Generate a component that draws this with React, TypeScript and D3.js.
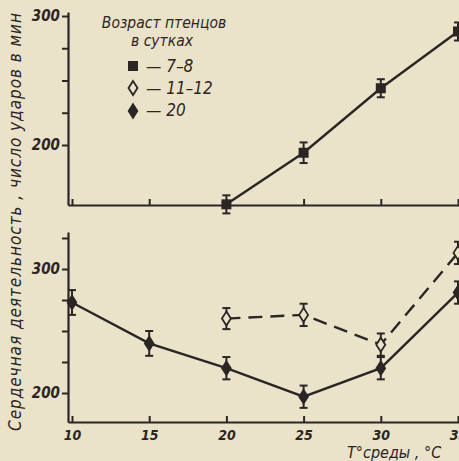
import React, { useRef, useEffect } from 'react';
import * as d3 from 'd3';

// temperature of environment, °C
const temps = [10, 15, 20, 25, 30, 35];

// 7–8 day old nestlings (top panel)
const age78Temps = [20, 25, 30, 35];
const age78Values = [154, 194, 244, 288];
const age78Err = [7, 8, 7, 7];

// 11–12 day old nestlings (bottom panel, dashed)
const age1112Temps = [20, 25, 30, 35];
const age1112Values = [260, 263, 239, 313];
const age1112Err = [8.5, 9, 9, 9];

// 20 day old nestlings (bottom panel, solid)
const age20Temps = [10, 15, 20, 25, 30, 35];
const age20Values = [273, 240, 220, 197, 220, 281];
const age20Err = [10, 10, 9, 9, 9, 9];

const yTicks = [200, 225, 250, 275, 300, 325];
const yTickLabels = [200, 300];

const legendTitle = ['Возраст птенцов', 'в сутках'];
const legendItems = ['— 7–8', '— 11–12', '— 20'];

const INK = '#2b2624';
const PAPER = '#ebe2ca';
const FONT = "'DejaVu Sans Condensed', 'DejaVu Sans', sans-serif";

const App = () => {
    const svgRef = useRef<SVGSVGElement>(null);

    useEffect(() => {
        const svg = d3.select(svgRef.current);
        svg.selectAll('*').remove();

        svg.append('rect').attr('width', 459).attr('height', 461).attr('fill', PAPER);

        const x = d3.scaleLinear().domain([10, 35]).range([72, 458]);
        const xLeft = x.invert(68);

        // top panel scale: 200 -> 145, 300 -> 16
        const yTop = d3.scaleLinear().domain([200, 300]).range([145, 16]);
        // bottom panel scale: 200 -> 393, 300 -> 269
        const yBot = d3.scaleLinear().domain([200, 300]).range([393, 269]);

        const fmt = (d: d3.NumberValue) => (yTickLabels.includes(+d) ? String(d) : '');

        const drawPanel = (y: d3.ScaleLinear<number, number>, yMin: number, yMax: number, xLabels: boolean) => {
            const g = svg.append('g');
            // y axis
            const ya = g.append('g')
                .attr('transform', `translate(68,0)`)
                .call(d3.axisLeft(y.copy().domain([yMin, yMax]).range([y(yMin), y(yMax)]))
                    .tickValues(yTicks.filter(t => t >= yMin && t <= yMax))
                    .tickFormat(fmt)
                    .tickSize(6)
                    .tickSizeOuter(0)
                    .tickPadding(2));
            ya.select('.domain').attr('stroke', INK).attr('stroke-width', 2.2);
            ya.selectAll('line').attr('stroke', INK).attr('stroke-width', 2);
            ya.selectAll('text')
                .attr('fill', INK)
                .style('font-family', FONT)
                .style('font-style', 'italic')
                .style('font-weight', 'bold')
                .style('font-size', '15px');

            // x axis
            const xa = g.append('g')
                .attr('transform', `translate(0,${y(yMin)})`)
                .call(d3.axisBottom(x.copy().domain([xLeft, 36]).range([68, x(36)]))
                    .tickValues(temps)
                    .tickFormat(d => (xLabels ? String(d) : ''))
                    .tickSize(-6)
                    .tickSizeOuter(0)
                    .tickPadding(8));
            xa.select('.domain').attr('stroke', INK).attr('stroke-width', 2.2);
            xa.selectAll('line').attr('stroke', INK).attr('stroke-width', 2);
            xa.selectAll('text')
                .attr('fill', INK)
                .style('font-family', FONT)
                .style('font-style', 'italic')
                .style('font-weight', 'bold')
                .style('font-size', '14px');
        };

        drawPanel(yTop, yTop.invert(205), yTop.invert(12), false);
        drawPanel(yBot, yBot.invert(422), yBot.invert(232), true);

        const errorBars = (g: d3.Selection<SVGGElement, unknown, null, undefined>, xs: number[], vs: number[], es: number[], y: d3.ScaleLinear<number, number>) => {
            xs.forEach((t, i) => {
                const cx = x(t);
                const y1 = y(vs[i] - es[i]);
                const y2 = y(vs[i] + es[i]);
                g.append('line').attr('x1', cx).attr('x2', cx).attr('y1', y1).attr('y2', y2)
                    .attr('stroke', INK).attr('stroke-width', 2);
                [y1, y2].forEach(yy => g.append('line')
                    .attr('x1', cx - 4).attr('x2', cx + 4).attr('y1', yy).attr('y2', yy)
                    .attr('stroke', INK).attr('stroke-width', 2));
            });
        };

        const diamond = (cx: number, cy: number) =>
            `M${cx},${cy - 7}L${cx + 4.5},${cy}L${cx},${cy + 7}L${cx - 4.5},${cy}Z`;

        // top panel: 7–8 days
        const top = svg.append('g');
        const lineTop = d3.line<number>().x((d, i) => x(age78Temps[i])).y(d => yTop(d));
        top.append('path').datum(age78Values).attr('d', lineTop)
            .attr('fill', 'none').attr('stroke', INK).attr('stroke-width', 2.4);
        errorBars(top, age78Temps, age78Values, age78Err, yTop);
        top.selectAll('rect.m').data(age78Values).join('rect')
            .attr('x', (d, i) => x(age78Temps[i]) - 5).attr('y', d => yTop(d) - 5)
            .attr('width', 10).attr('height', 10).attr('fill', INK);

        // bottom panel
        const bot = svg.append('g');
        const line1112 = d3.line<number>().x((d, i) => x(age1112Temps[i])).y(d => yBot(d));
        bot.append('path').datum(age1112Values).attr('d', line1112)
            .attr('fill', 'none').attr('stroke', INK).attr('stroke-width', 2.4)
            .attr('stroke-dasharray', '14 8');
        const line20 = d3.line<number>().x((d, i) => x(age20Temps[i])).y(d => yBot(d));
        bot.append('path').datum(age20Values).attr('d', line20)
            .attr('fill', 'none').attr('stroke', INK).attr('stroke-width', 2.4);

        errorBars(bot, age1112Temps, age1112Values, age1112Err, yBot);
        errorBars(bot, age20Temps, age20Values, age20Err, yBot);

        age1112Values.forEach((v, i) => {
            bot.append('path').attr('d', diamond(x(age1112Temps[i]), yBot(v)))
                .attr('fill', PAPER).attr('stroke', INK).attr('stroke-width', 1.8);
        });
        age20Values.forEach((v, i) => {
            bot.append('path').attr('d', diamond(x(age20Temps[i]), yBot(v)))
                .attr('fill', INK).attr('stroke', INK).attr('stroke-width', 1.5);
        });

        // x label
        svg.append('text')
            .attr('x', 347).attr('y', 458)
            .attr('fill', INK)
            .style('font-family', FONT)
            .style('font-style', 'italic')
            .style('font-size', '16px')
            .text('T°среды , °C');

        // y label
        svg.append('text')
            .attr('transform', 'translate(21,222) rotate(-90)')
            .attr('text-anchor', 'middle')
            .attr('fill', INK)
            .attr('textLength', 418)
            .style('font-family', FONT)
            .style('font-style', 'italic')
            .style('font-size', '17px')
            .text('Сердечная деятельность , число ударов в мин');

        // legend
        const lg = svg.append('g').style('font-family', FONT).style('font-style', 'italic').attr('fill', INK);
        lg.append('text').attr('x', 164).attr('y', 28).attr('text-anchor', 'middle')
            .style('font-size', '15.5px').text(legendTitle[0]);
        lg.append('text').attr('x', 162).attr('y', 46).attr('text-anchor', 'middle')
            .style('font-size', '15.5px').text(legendTitle[1]);
        lg.append('rect').attr('x', 128).attr('y', 61).attr('width', 10).attr('height', 10).attr('fill', INK);
        lg.append('path').attr('d', diamond(133, 88)).attr('fill', PAPER).attr('stroke', INK).attr('stroke-width', 1.8);
        lg.append('path').attr('d', diamond(133, 111)).attr('fill', INK).attr('stroke', INK).attr('stroke-width', 1.5);
        legendItems.forEach((t, i) => {
            lg.append('text').attr('x', 146).attr('y', 72 + i * 22)
                .style('font-size', '17px').text(t);
        });
    }, []);

    return (
        <svg ref={svgRef} width="459" height="461" style={{ position: 'absolute', left: 0, top: 0 }}></svg>
    );
};

export default App;
